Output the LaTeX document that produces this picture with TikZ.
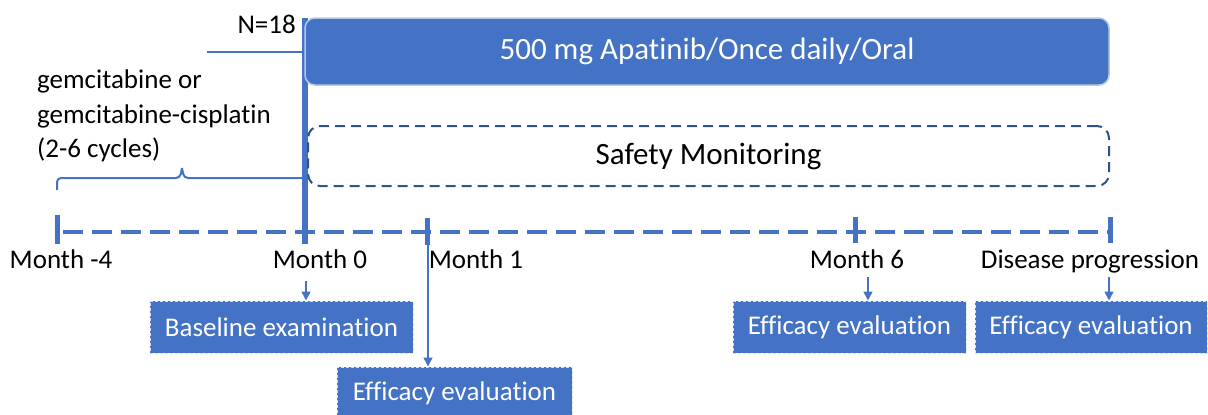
\documentclass[tikz,border=0pt]{standalone}
\usepackage{fontspec}
\setmainfont{Carlito}[RawFeature={-liga;-clig;-dlig;-calt}]
\usetikzlibrary{arrows.meta}
\definecolor{mblue}{HTML}{4472C4}
\definecolor{dblue}{HTML}{2F528F}
\definecolor{lblue}{HTML}{B4C7E7}
\begin{document}
\begin{tikzpicture}[x=1pt,y=-1pt,
  small/.style={font=\fontsize{27}{34.5}\selectfont, inner sep=0pt},
  big/.style={font=\fontsize{31}{36}\selectfont},
  evbox/.style={fill=mblue, draw=white!80!mblue, dash pattern=on 3pt off 2pt, line width=1pt,
    text=white, font=\fontsize{27}{30}\selectfont, minimum height=52pt, inner sep=0pt},
  tl/.style={mblue, line width=2pt},
  tickmark/.style={mblue, line width=5pt},
  arr/.style={mblue, line width=1.5pt, -{Triangle[length=9pt,width=9pt]}}
]
\useasboundingbox (0,0) rectangle (1208,415);

% coordinates
\coordinate (top0) at (305,18);
\coordinate (t0) at (305,244);
\coordinate (hl) at (207,52);
\coordinate (tm4) at (57,232);
\coordinate (tls) at (63,232);
\coordinate (t1) at (427,232);
\coordinate (t6) at (855,232);
\coordinate (tdp) at (1110,232);

% main vertical and horizontal line
\draw[mblue, line width=6pt] (top0) -- (t0);
\draw[tl] (hl) -- (hl -| top0);

% banner
\node[fill=mblue, draw=lblue, line width=1.5pt, rounded corners=10pt, minimum width=804pt,
  minimum height=67pt, text=white, big] (banner) at (707,51.5) {500 mg Apatinib/Once daily/Oral};

% safety monitoring
\node[draw=dblue, line width=2pt, dash pattern=on 10pt off 6pt, rounded corners=12pt,
  minimum width=801pt, minimum height=60pt, big] (safety) at (708.5,156) {Safety Monitoring};

% N=18 and chemo text
\node[small, anchor=base east] (n18) at (296,33) {N=18};
\node[small, anchor=north west, align=left] (gem) at (37,70)
  {gemcitabine or\\gemcitabine-cisplatin\\(2-6 cycles)};

% brace
\draw[tl, rounded corners=4pt] (57,190) -- (57,178) -- (180,178) -- (182,168);
\draw[tl, rounded corners=4pt] (182,168) -- (184,178) -- (305,178);

% timeline
\draw[mblue, line width=4pt, dash pattern=on 20pt off 9pt] (tls) -- (tdp);
\draw[tickmark] ([yshift=17pt]tm4) -- ([yshift=-12pt]tm4);
\draw[tickmark] ([yshift=14pt]t1) -- ([yshift=-13pt]t1);
\draw[tickmark] ([yshift=15pt]t6) -- ([yshift=-11pt]t6);
\draw[tickmark] ([yshift=15pt]tdp) -- ([yshift=-11pt]tdp);

% labels
\node[small, anchor=base] (lm4) at (61,268) {Month -4};
\node[small, anchor=base] (l0) at (320,268) {Month 0};
\node[small, anchor=base] (l1) at (476,268) {Month 1};
\node[small, anchor=base] (l6) at (857,268) {Month 6};
\node[small, anchor=base] (ldp) at (1090,268) {Disease progression};

% boxes
\node[evbox, minimum width=263pt] (base) at (281.5,327) {Baseline examination};
\node[evbox, minimum width=235pt] (eff1) at (454.5,393) {Efficacy evaluation};
\node[evbox, minimum width=233pt] (eff6) at (849.5,327) {Efficacy evaluation};
\node[evbox, minimum width=232pt] (effdp) at (1091,327) {Efficacy evaluation};

% arrows
\coordinate (a0s) at (306,281);
\coordinate (a1s) at (428,245);
\coordinate (a6s) at (868,277);
\coordinate (ads) at (1109,277);
\draw[arr] (a0s) -- (a0s |- base.north);
\draw[arr] (a1s) -- (a1s |- eff1.north);
\draw[arr] (a6s) -- (a6s |- eff6.north);
\draw[arr] (ads) -- (ads |- effdp.north);
\end{tikzpicture}
\end{document}
